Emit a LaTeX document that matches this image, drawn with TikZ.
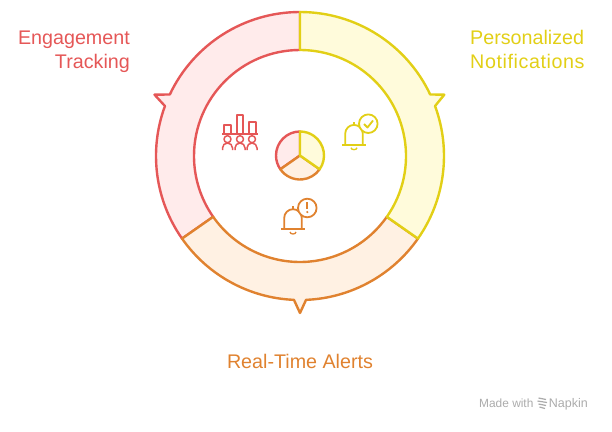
\documentclass[tikz,border=0pt]{standalone}
\usepackage{fontspec}
\setmainfont{Liberation Sans}
\usetikzlibrary{positioning}
\definecolor{redline}{HTML}{E55757}
\definecolor{redfill}{HTML}{FFEBEB}
\definecolor{yellowline}{HTML}{E2CF16}
\definecolor{yellowfill}{HTML}{FFFBDB}
\definecolor{orangeline}{HTML}{E0822F}
\definecolor{orangefill}{HTML}{FFF1E3}
\definecolor{markgrey}{HTML}{ABABAB}
\begin{document}
\begin{tikzpicture}[x=1pt,y=1pt,line join=round,
segment/.style={line width=2.4pt},
iconline/.style={line width=1.8pt},
caption/.style={font=\fontsize{19.7}{24}\selectfont,inner sep=0pt},
brandtext/.style={font=\fontsize{11.9}{14}\selectfont,inner sep=0pt,text=markgrey},
bellicon/.pic={
\draw[iconline] (-12,0) -- (12,0);
\draw[iconline] (-8.8,0) -- (-8.8,11) arc[start angle=180,end angle=0,radius=8.8] -- (8.8,0);
\draw[iconline] (0,19.8) -- (0,23);
\draw[iconline,line width=1.3pt] (-3,-3) arc[start angle=180,end angle=360,x radius=3,y radius=2];
\draw[iconline,fill=white] (14.3,21) circle (9.3);
}]
\useasboundingbox (-300,-275) rectangle (312,156);
% ring
\draw[segment,draw=redline,fill=redfill] (215:144) arc[start angle=215,end angle=159.7,radius=144] -- (-145.5,61.3) -- (154.7:144) arc[start angle=154.7,end angle=90,radius=144] -- (90:106) arc[start angle=90,end angle=215,radius=106] -- cycle;
\draw[segment,draw=orangeline,fill=orangefill] (325:144) arc[start angle=325,end angle=272.4,radius=144] -- (0,-157) -- (267.6:144) arc[start angle=267.6,end angle=215,radius=144] -- (215:106) arc[start angle=215,end angle=325,radius=106] -- cycle;
\draw[segment,draw=yellowline,fill=yellowfill] (90:144) arc[start angle=90,end angle=25.3,radius=144] -- (144.3,61.3) -- (20.3:144) arc[start angle=20.3,end angle=-35,radius=144] -- (-35:106) arc[start angle=-35,end angle=90,radius=106] -- cycle;
% small pie
\coordinate (P) at (0,0.5);
\draw[segment,draw=redline,fill=redfill] (P) -- +(90:24) arc[start angle=90,end angle=215,radius=24] -- cycle;
\draw[segment,draw=orangeline,fill=orangefill] (P) -- +(215:24) arc[start angle=215,end angle=325,radius=24] -- cycle;
\draw[segment,draw=yellowline,fill=yellowfill] (P) -- +(325:24) arc[start angle=325,end angle=450,radius=24] -- cycle;
% chart with people
\begin{scope}[color=redline]
\draw[iconline] (-78,22.3) -- (-42,22.3);
\draw[iconline] (-76,22.3) -- (-76,31) -- (-69.3,31) -- (-69.3,22.3);
\draw[iconline] (-63.3,22.3) -- (-63.3,41.3) -- (-56.7,41.3) -- (-56.7,22.3);
\draw[iconline] (-50.7,22.3) -- (-50.7,34) -- (-44,34) -- (-44,22.3);
\foreach \px in {-72.5,-60,-48} {
\draw[iconline,line width=1.5pt] (\px,16.8) circle (3.5);
\draw[iconline,line width=1.5pt] (\px-5,6) -- (\px-5,8) arc[start angle=180,end angle=0,radius=5] -- (\px+5,6);
}
\end{scope}
% bells
\pic[color=yellowline] at (54,11.3) {bellicon};
\draw[iconline,color=yellowline] (64,32) -- (67.5,28.5) -- (73,35.5);
\pic[color=orangeline] at (-7,-73) {bellicon};
\draw[iconline,color=orangeline] (7.3,-46) -- (7.3,-53);
\fill[orangeline] (7.3,-56) circle (1.2);
% labels
\node[caption,text=redline,align=right,anchor=north east] (tracking) at (-170,125.5) {Engagement\\Tracking};
\node[caption,text=yellowline,align=left,anchor=north west] (notifications) at (170,125.5) {Personalized\\\addfontfeature{LetterSpace=3}Notifications};
\node[caption,text=orangeline] (alerts) at (0,-205) {Real-Time Alerts};
% brand
\node[brandtext,anchor=base west] (made) at (179,-251) {Made with};
\node[brandtext,font=\fontsize{12.5}{14}\selectfont,anchor=base east] (napkin) at (288,-251) {Napkin};
\foreach \my/\mx in {5/1,2/0,-1/1,-4/2} {
\draw[markgrey,line width=1.2pt] (237.5+\mx,-247+\my) -- (247-\mx,-247+\my-1.5);
}
\end{tikzpicture}
\end{document}
